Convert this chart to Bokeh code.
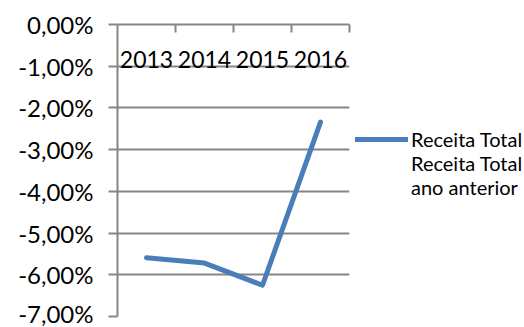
from bokeh.plotting import figure
from bokeh.models import (Range1d, LinearAxis, FixedTicker, CustomJSTickFormatter,
                          Legend, LegendItem)
from bokeh.embed import file_html
from bokeh.resources import INLINE

years = ["2013", "2014", "2015", "2016"]
receita_var = [-5.59, -5.72, -6.25, -2.34]   # % change vs previous year
y_ticks = [-7, -6, -5, -4, -3, -2, -1, 0]
legend_lines = ["Receita Total", "Receita Total", "ano anterior"]

GRAY = "#868686"
BLUE = "#4A7EBB"
FONT = "Lato"

n = len(years)
xs = [i + 0.5 for i in range(n)]

p = figure(frame_width=232, frame_height=292, output_backend="svg", toolbar_location=None,
           x_range=Range1d(0, n), y_range=Range1d(min(y_ticks), max(y_ticks)),
           x_axis_location=None, y_axis_location="left",
           min_border_left=117, min_border_right=0,
           min_border_top=24, min_border_bottom=11)
p.outline_line_color = None
p.background_fill_color = "white"
p.border_fill_color = "white"

# y axis
yt = FixedTicker(ticks=y_ticks)
ya = p.yaxis[0]
ya.ticker = yt
ya.formatter = CustomJSTickFormatter(code="return tick.toFixed(2).replace('.', ',') + '%';")
ya.axis_line_color = GRAY
ya.axis_line_width = 2
ya.major_tick_line_color = GRAY
ya.major_tick_line_width = 2
ya.major_tick_out = 9
ya.major_tick_in = 0
ya.minor_tick_line_color = None
ya.major_label_standoff = 15
ya.major_label_text_font = FONT
ya.major_label_text_font_size = "24px"
ya.major_label_text_color = "#000000"

p.ygrid.ticker = yt
p.ygrid.grid_line_color = GRAY
p.ygrid.grid_line_width = 2
p.xgrid.visible = False

# category axis at top (value 0), labels drawn below it
xa = LinearAxis(ticker=FixedTicker(ticks=xs, minor_ticks=list(range(1, n + 1))),
                formatter=CustomJSTickFormatter(args=dict(years=years),
                                                code="return years[Math.floor(tick)];"))
xa.axis_line_color = GRAY
xa.axis_line_width = 2
xa.major_tick_line_color = None
xa.major_tick_in = 0
xa.major_tick_out = 0
xa.minor_tick_line_color = GRAY
xa.minor_tick_line_width = 2
xa.minor_tick_in = 8
xa.minor_tick_out = 0
xa.major_label_standoff = -43
xa.major_label_text_font = FONT
xa.major_label_text_font_size = "23px"
xa.major_label_text_color = "#000000"
p.add_layout(xa, "above")

r = p.line(xs, receita_var, line_color=BLUE, line_width=5,
           line_join="round", line_cap="round")
r2 = p.line([], [], line_alpha=0)
r3 = p.line([], [], line_alpha=0)

legend = Legend(items=[LegendItem(label=legend_lines[0], renderers=[r]),
                       LegendItem(label=legend_lines[1], renderers=[r2]),
                       LegendItem(label=legend_lines[2], renderers=[r3])],
                location=(6, 117), padding=0, margin=0, spacing=0,
                glyph_width=53, glyph_height=22, label_height=22,
                label_standoff=3, border_line_color=None,
                background_fill_alpha=0,
                label_text_font=FONT, label_text_font_size="20px",
                label_text_color="#000000")
p.add_layout(legend, "right")

open("out.html", "w").write(file_html(p, INLINE))
